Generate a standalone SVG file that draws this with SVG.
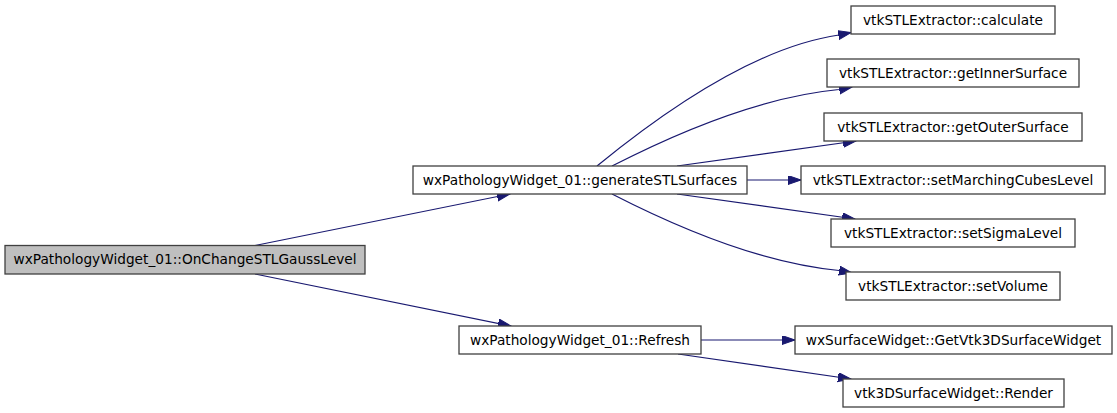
<svg xmlns="http://www.w3.org/2000/svg" width="1117" height="413" viewBox="0 0 1117 413">
<style>
  .node rect { fill: #ffffff; stroke: #404040; stroke-width: 1.3; }
  .node.root rect { fill: #bfbfbf; }
  .node text { font-family: "DejaVu Sans", sans-serif; font-size: 13.7px; fill: #000000; text-anchor: middle; }
  .edge { fill: none; stroke: #191970; stroke-width: 1.2; marker-end: url(#arrow); }
</style>
<defs>
  <marker id="arrow" markerUnits="userSpaceOnUse" markerWidth="14" markerHeight="10" refX="13" refY="4.5" orient="auto">
    <path d="M0,0 L13,4.5 L0,9 Z" fill="#191970" stroke="#191970" stroke-width="1"/>
  </marker>
</defs>
<rect width="1117" height="413" fill="#ffffff"/>
<g id="connectors">
  <path class="edge" d="M255,245.5 L510,194"/>
  <path class="edge" d="M255,274 L511,326"/>
  <path class="edge" d="M597,166 C690,90 770,45 839,35 L851,32.5"/>
  <path class="edge" d="M612,166 C690,126 770,96 839,89.5 L852,87"/>
  <path class="edge" d="M677,166 L856,141"/>
  <path class="edge" d="M747,180 L801,180"/>
  <path class="edge" d="M677,194 L855,219"/>
  <path class="edge" d="M612,194 C690,234 770,264 839,270.5 L852,273"/>
  <path class="edge" d="M701,340 L795,340"/>
  <path class="edge" d="M678,354 L851,379"/>
</g>
<g id="node_main" class="node root">
  <rect x="5" y="245.5" width="360" height="28.5"/>
  <text x="185" y="264">wxPathologyWidget_01::OnChangeSTLGaussLevel</text>
</g>
<g id="node_generate" class="node">
  <rect x="413" y="166" width="334" height="28"/>
  <text x="580" y="184.5">wxPathologyWidget_01::generateSTLSurfaces</text>
</g>
<g id="node_calculate" class="node">
  <rect x="851" y="6" width="204" height="28"/>
  <text x="953" y="24.5">vtkSTLExtractor::calculate</text>
</g>
<g id="node_inner" class="node">
  <rect x="827" y="59" width="252" height="28"/>
  <text x="953" y="77.5">vtkSTLExtractor::getInnerSurface</text>
</g>
<g id="node_outer" class="node">
  <rect x="824" y="113" width="258" height="28"/>
  <text x="953" y="131.5">vtkSTLExtractor::getOuterSurface</text>
</g>
<g id="node_marching" class="node">
  <rect x="801" y="166" width="304" height="28"/>
  <text x="953" y="184.5">vtkSTLExtractor::setMarchingCubesLevel</text>
</g>
<g id="node_sigma" class="node">
  <rect x="831" y="219" width="244" height="28"/>
  <text x="953" y="237.5">vtkSTLExtractor::setSigmaLevel</text>
</g>
<g id="node_volume" class="node">
  <rect x="846" y="272" width="214" height="28"/>
  <text x="953" y="290.5">vtkSTLExtractor::setVolume</text>
</g>
<g id="node_refresh" class="node">
  <rect x="459" y="326" width="242" height="28"/>
  <text x="580" y="344.5">wxPathologyWidget_01::Refresh</text>
</g>
<g id="node_getvtk" class="node">
  <rect x="795" y="326" width="317" height="28"/>
  <text x="953.5" y="344.5">wxSurfaceWidget::GetVtk3DSurfaceWidget</text>
</g>
<g id="node_render" class="node">
  <rect x="843" y="379" width="221" height="28"/>
  <text x="953.5" y="397.5">vtk3DSurfaceWidget::Render</text>
</g>
</svg>
